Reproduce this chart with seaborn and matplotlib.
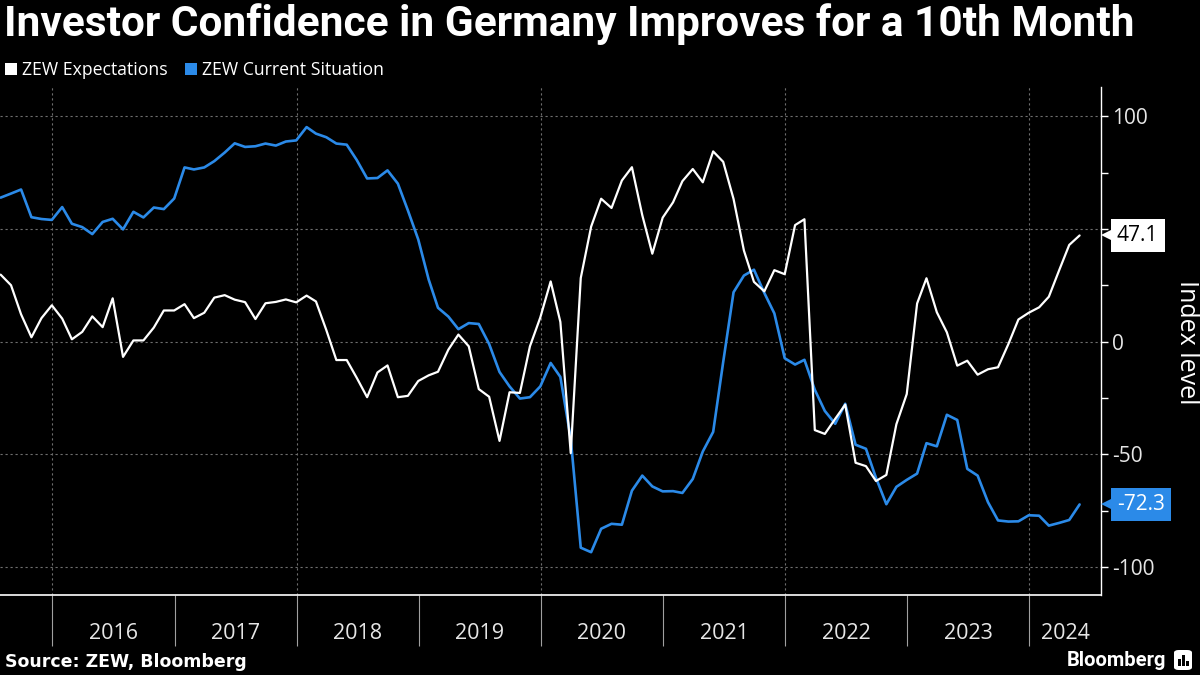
#!/usr/bin/env python3
"""
ZEW investor confidence chart (Bloomberg style) rebuilt with seaborn.
"""

import pandas as pd
import matplotlib
matplotlib.use('Agg')
import matplotlib.pyplot as plt
import matplotlib.transforms as mtransforms
from matplotlib.lines import Line2D
from matplotlib.patches import FancyBboxPatch, Rectangle
import seaborn as sns

TITLE = 'Investor Confidence in Germany Improves for a 10th Month'
SOURCE = 'Source: ZEW, Bloomberg'
Y_LABEL = 'Index level'

# Monthly readings, Jul 2015 - May 2024
start_month = '2015-07-31'
expectations = [
    29.7, 25.0, 12.1, 1.9, 10.4, 16.1,
    10.2, 1.0, 4.3, 11.2, 6.4, 19.2, -6.8, 0.5, 0.5, 6.2, 13.8, 13.8,
    16.6, 10.4, 12.8, 19.5, 20.6, 18.6, 17.5, 10.0, 17.0, 17.6, 18.7, 17.4,
    20.4, 17.8, 5.1, -8.2, -8.2, -16.1, -24.7, -13.7, -10.6, -24.7, -24.1, -17.5,
    -15.0, -13.4, -3.6, 3.1, -2.1, -21.1, -24.5, -44.1, -22.5, -22.8, -2.1, 10.7,
    26.7, 8.7, -49.5, 28.2, 51.0, 63.4, 59.3, 71.5, 77.4, 56.1, 39.0, 55.0,
    61.8, 71.2, 76.6, 70.7, 84.4, 79.8, 63.3, 40.4, 26.5, 22.3, 31.7, 29.9,
    51.7, 54.3, -39.3, -41.0, -34.3, -28.0, -53.8, -55.3, -61.9, -59.2, -36.7, -23.3,
    16.9, 28.1, 13.0, 4.1, -10.7, -8.5, -14.7, -12.3, -11.4, -1.1, 9.8, 12.8,
    15.2, 19.9, 31.7, 42.9, 47.1,
]
current_situation = [
    63.9, 65.7, 67.5, 55.2, 54.4, 54.0,
    59.7, 52.3, 50.8, 47.7, 53.1, 54.5, 49.8, 57.6, 55.1, 59.5, 58.8, 63.5,
    77.3, 76.4, 77.3, 80.1, 83.9, 88.0, 86.4, 86.7, 87.9, 87.0, 88.8, 89.3,
    95.2, 92.3, 90.7, 87.9, 87.4, 80.6, 72.4, 72.6, 76.0, 70.1, 58.2, 45.3,
    27.6, 15.0, 11.1, 5.5, 8.2, 7.8, -1.1, -13.5, -19.9, -25.3, -24.7, -19.9,
    -9.5, -15.7, -43.1, -91.5, -93.5, -83.1, -80.9, -81.3, -66.2, -59.5, -64.3, -66.5,
    -66.4, -67.2, -61.0, -48.8, -40.1, -9.1, 21.9, 29.3, 31.9, 21.6, 12.5, -7.4,
    -10.2, -8.1, -21.4, -30.8, -36.5, -27.6, -45.8, -47.6, -60.5, -72.2, -64.5, -61.4,
    -58.6, -45.1, -46.5, -32.5, -34.8, -56.5, -59.5, -71.3, -79.4, -79.9, -79.8, -77.1,
    -77.3, -81.7, -80.5, -79.2, -72.3,
]
series_names = ['ZEW Expectations', 'ZEW Current Situation']
series_colors = ['#ffffff', '#2b8ae8']
tag_text_colors = ['#000000', '#ffffff']
year_labels = [str(y) for y in range(2016, 2025)]
y_ticks = [-100, -50, 0, 50, 100]
y_minor = [-75, -25, 25, 75]

BG = '#000000'
GRID = '#6e6e6e'
TEXT = '#ffffff'


def build_frame():
    dates = pd.date_range(start_month, periods=len(expectations), freq='ME')
    df = pd.DataFrame({
        'date': list(dates) * 2,
        'value': expectations + current_situation,
        'series': [series_names[0]] * len(dates) + [series_names[1]] * len(dates),
    })
    return df


def main():
    sns.set_theme(style='dark', rc={
        'axes.facecolor': BG, 'figure.facecolor': BG, 'savefig.facecolor': BG,
        'axes.grid': False,
    })
    plt.rcParams['font.family'] = ['Open Sans', 'DejaVu Sans']
    plt.rcParams['axes.unicode_minus'] = False

    df = build_frame()

    fig = plt.figure(figsize=(12, 6.75), dpi=100)
    ax = fig.add_axes([0, 80 / 675, 1101 / 1200, 508 / 675])
    ax.set_facecolor(BG)

    x_min = pd.Timestamp('2015-07-29')
    x_max = pd.Timestamp('2024-08-03')

    # grid (dotted): horizontal at labelled ticks, vertical every two years
    for v in y_ticks:
        ax.axhline(v, color=GRID, lw=0.8, ls=(0, (2, 2.5)), zorder=1)
    for yr in range(2016, 2025, 2):
        ax.axvline(pd.Timestamp(f'{yr}-01-01'), color=GRID, lw=0.8, ls=(0, (2, 2.5)), zorder=1)

    # blue first, white on top
    sns.lineplot(data=df[df['series'] == series_names[1]], x='date', y='value',
                 color=series_colors[1], lw=1.9, ax=ax, legend=False, zorder=3)
    sns.lineplot(data=df[df['series'] == series_names[0]], x='date', y='value',
                 color=series_colors[0], lw=1.6, ax=ax, legend=False, zorder=4)

    ax.set_xlim(x_min, x_max)
    ax.set_ylim(-112.5, 113)
    ax.set_xlabel('')
    ax.set_ylabel('')

    # x axis: long separators at year starts, labels centred in each year
    year_starts = [pd.Timestamp(f'{y}-01-01') for y in range(2016, 2025)]
    mids = []
    for i, ys in enumerate(year_starts):
        end = year_starts[i + 1] if i + 1 < len(year_starts) else x_max
        mids.append(ys + (end - ys) / 2)
    ax.set_xticks(year_starts)
    ax.set_xticklabels([''] * len(year_starts))
    ax.set_xticks(mids, minor=True)
    ax.set_xticklabels(year_labels, minor=True)
    ax.tick_params(axis='x', which='major', length=37, width=0.8, color='#a0a0a0',
                   direction='out', bottom=True)
    ax.tick_params(axis='x', which='minor', length=0, pad=20, labelsize=15.5,
                   labelcolor='#e6e6e6', bottom=True)

    # y axis on the right
    ax.yaxis.tick_right()
    ax.set_yticks(y_ticks)
    ax.set_yticklabels([str(v) for v in y_ticks])
    ax.set_yticks(y_minor, minor=True)
    ax.tick_params(axis='y', which='both', length=5, width=1, color=TEXT,
                   direction='out', right=True, left=False)
    ax.tick_params(axis='y', which='major', labelsize=15, labelcolor='#e6e6e6', pad=3)

    for side in ['top', 'left']:
        ax.spines[side].set_visible(False)
    ax.spines['right'].set_color(TEXT)
    ax.spines['right'].set_linewidth(1.0)
    ax.spines['bottom'].set_color(TEXT)
    ax.spines['bottom'].set_linewidth(1.2)

    # last-value tags on the right axis (they sit over the "50" label, as in the original)
    blend = mtransforms.blended_transform_factory(ax.transAxes, ax.transData)
    last_vals = [expectations[-1], current_situation[-1]]
    for val, fc, tc in zip(last_vals, series_colors, tag_text_colors):
        ax.plot([1.0055], [val], marker='<', markersize=9, color=fc, transform=blend,
                clip_on=False, zorder=10, markeredgewidth=0)
        ax.annotate(f'{val:.1f}', xy=(1.0, val), xycoords=blend,
                    xytext=(11.5, 0), textcoords='offset points',
                    ha='left', va='center', fontsize=15, color=tc, zorder=11,
                    annotation_clip=False,
                    bbox=dict(boxstyle='square,pad=0.3', fc=fc, ec='none'))

    fig.text(1186 / 1200, 1 - 342 / 675, Y_LABEL, rotation=270, ha='center',
             va='center', fontsize=18, color=TEXT)

    # title and legend
    fig.text(4 / 1200, 1 - 24 / 675, TITLE, ha='left', va='center', fontsize=30.5,
             fontweight='bold', color=TEXT, family=['Roboto', 'DejaVu Sans'])

    handles = [Line2D([], [], ls='', marker='s', markersize=8.5, color=c,
                      markeredgewidth=0) for c in series_colors]
    fig.legend(handles, series_names, loc='center left',
               bbox_to_anchor=(0.0, 1 - 70 / 675), ncol=2, frameon=False,
               fontsize=12.7, labelcolor=TEXT, handlelength=0.7, handletextpad=0.25,
               columnspacing=1.0, borderaxespad=0, borderpad=0.3)

    # footer
    fig.text(5 / 1200, 1 - 662 / 675, SOURCE, ha='left', va='center', fontsize=12.5,
             fontweight='bold', color=TEXT, family=['DejaVu Sans'])
    fig.text(1166 / 1200, 1 - 660 / 675, 'Bloomberg', ha='right', va='center',
             fontsize=14.5, fontweight='bold', color=TEXT,
             family=['Roboto', 'DejaVu Sans'])
    icon = FancyBboxPatch((1174 / 1200, 1 - 670 / 675), 18 / 1200, 20 / 675,
                          boxstyle='round,pad=0,rounding_size=0.004',
                          transform=fig.transFigure, fc=TEXT, ec='none')
    fig.patches.append(icon)
    for bx, bh in [(1178, 7), (1182, 11), (1186, 5)]:
        fig.patches.append(Rectangle((bx / 1200, 1 - 666 / 675), 2.5 / 1200, bh / 675,
                                     transform=fig.transFigure, fc=BG, ec='none'))

    fig.savefig('out.png', dpi=100, facecolor=BG)


if __name__ == '__main__':
    main()
